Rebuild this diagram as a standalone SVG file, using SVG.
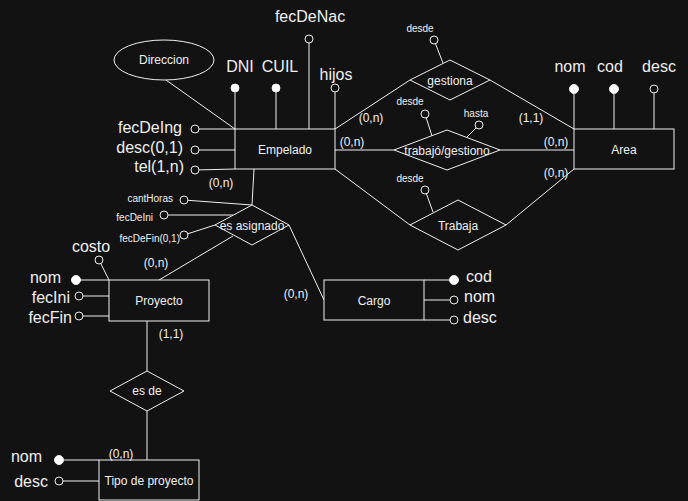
<svg xmlns="http://www.w3.org/2000/svg" width="688" height="501" viewBox="0 0 688 501">
<style>
text{font-family:"Liberation Sans",Arial,sans-serif;fill:#f0f0f0}
.s{font-size:10px}.m{font-size:12px}.l{font-size:16px}
.c{text-anchor:middle}.e{text-anchor:end}
.sh{fill:#121212;stroke:#f0f0f0;stroke-width:1}
.ln{stroke:#f0f0f0;stroke-width:1;fill:none}
.f{fill:#ffffff;stroke:#f0f0f0}
.o{fill:#121212;stroke:#f0f0f0;stroke-width:1}
</style>
<rect width="688" height="501" fill="#121212"/>
<g id="connectors" class="ln">
<line x1="166" y1="80" x2="235" y2="129"/>
<line x1="235" y1="88" x2="235" y2="129"/>
<line x1="276" y1="88" x2="276" y2="129"/>
<line x1="309" y1="39" x2="309" y2="129"/>
<line x1="335" y1="88" x2="335" y2="129"/>
<line x1="195" y1="129" x2="235" y2="129"/>
<line x1="195" y1="150" x2="235" y2="150"/>
<line x1="195" y1="170" x2="235" y2="169"/>
<line x1="254" y1="169" x2="252" y2="205"/>
<line x1="184" y1="200" x2="252" y2="205"/>
<line x1="164" y1="215" x2="233" y2="215"/>
<line x1="184" y1="235" x2="215" y2="225"/>
<line x1="159" y1="280" x2="233" y2="236"/>
<line x1="289" y1="225" x2="324" y2="300"/>
<line x1="99" y1="260" x2="109" y2="280"/>
<line x1="76" y1="280" x2="109" y2="280"/>
<line x1="79" y1="296" x2="109" y2="296"/>
<line x1="79" y1="316" x2="109" y2="316"/>
<line x1="424" y1="280" x2="454" y2="280"/>
<line x1="424" y1="300" x2="454" y2="300"/>
<line x1="424" y1="320" x2="454" y2="320"/>
<line x1="147" y1="321" x2="147" y2="371"/>
<line x1="147" y1="411" x2="147" y2="460"/>
<line x1="59" y1="460" x2="99" y2="460"/>
<line x1="59" y1="481" x2="99" y2="481"/>
<line x1="335" y1="129" x2="410" y2="80"/>
<line x1="490" y1="80" x2="574" y2="129"/>
<line x1="434" y1="40" x2="443" y2="63"/>
<line x1="335" y1="150" x2="394" y2="150"/>
<line x1="500" y1="150" x2="574" y2="150"/>
<line x1="425" y1="114" x2="432" y2="136"/>
<line x1="479" y1="125" x2="467" y2="137"/>
<line x1="335" y1="169" x2="410" y2="225"/>
<line x1="506" y1="225" x2="574" y2="169"/>
<line x1="425" y1="190" x2="433" y2="212"/>
<line x1="574" y1="89" x2="574" y2="129"/>
<line x1="614" y1="89" x2="614" y2="129"/>
<line x1="654" y1="89" x2="654" y2="129"/>
</g>
<g id="Empelado"><rect class="sh" x="235" y="129" width="100" height="40"/><text class="m c" x="285" y="154">Empelado</text></g>
<g id="Direccion"><ellipse class="sh" cx="164" cy="60" rx="50" ry="20"/><text class="m c" x="164" y="64">Direccion</text></g>
<g id="attr-DNI"><circle class="f" cx="235" cy="88" r="4"/><text class="l c" x="240" y="72">DNI</text></g>
<g id="attr-CUIL"><circle class="f" cx="276" cy="88" r="4"/><text class="l c" x="280" y="72">CUIL</text></g>
<g id="attr-fecDeNac"><circle class="o" cx="309" cy="39" r="4"/><text class="l c" x="310" y="22">fecDeNac</text></g>
<g id="attr-hijos"><circle class="o" cx="335" cy="88" r="4"/><text class="l c" x="336" y="80">hijos</text></g>
<g id="attr-fecDeIng"><circle class="o" cx="195" cy="129" r="4"/><text class="l e" x="182" y="133">fecDeIng</text></g>
<g id="attr-desc01"><circle class="o" cx="195" cy="150" r="4"/><text class="l e" x="183" y="153">desc(0,1)</text></g>
<g id="attr-tel"><circle class="o" cx="195" cy="170" r="4"/><text class="l e" x="184" y="172">tel(1,n)</text></g>
<g id="es-asignado"><polygon class="sh" points="252,205 289,225 252,245 215,225"/><text class="m c" x="252" y="230">es asignado</text></g>
<g id="attr-cantHoras"><circle class="o" cx="184" cy="200" r="4"/><text class="s e" x="173" y="202">cantHoras</text></g>
<g id="attr-fecDeIni"><circle class="o" cx="164" cy="215" r="4"/><text class="s e" x="153" y="221">fecDeIni</text></g>
<g id="attr-fecDeFin"><circle class="o" cx="184" cy="235" r="4"/><text class="s e" x="180" y="242">fecDeFin(0,1)</text></g>
<g id="Proyecto"><rect class="sh" x="109" y="280" width="100" height="41"/><text class="m c" x="159" y="305">Proyecto</text></g>
<g id="attr-costo"><circle class="o" cx="99" cy="260" r="4"/><text class="l c" x="91" y="252">costo</text></g>
<g id="attr-p-nom"><circle class="f" cx="76" cy="280" r="4.5"/><text class="l e" x="61" y="283">nom</text></g>
<g id="attr-fecIni"><circle class="o" cx="79" cy="296" r="4"/><text class="l e" x="70" y="303">fecIni</text></g>
<g id="attr-fecFin"><circle class="o" cx="79" cy="316" r="4"/><text class="l e" x="72" y="323">fecFin</text></g>
<g id="Cargo"><rect class="sh" x="324" y="280" width="100" height="40"/><text class="m c" x="374" y="305">Cargo</text></g>
<g id="attr-c-cod"><circle class="f" cx="454" cy="280" r="4.5"/><text class="l" x="466" y="282">cod</text></g>
<g id="attr-c-nom"><circle class="o" cx="454" cy="300" r="4"/><text class="l" x="464" y="302">nom</text></g>
<g id="attr-c-desc"><circle class="o" cx="454" cy="320" r="4"/><text class="l" x="463" y="323">desc</text></g>
<g id="es-de"><polygon class="sh" points="147,371 184,391 147,411 110,391"/><text class="m c" x="147" y="395">es de</text></g>
<g id="Tipo-de-proyecto"><rect class="sh" x="99" y="460" width="100" height="40"/><text class="m c" x="149" y="485">Tipo de proyecto</text></g>
<g id="attr-t-nom"><circle class="f" cx="59" cy="460" r="4.5"/><text class="l e" x="42" y="462">nom</text></g>
<g id="attr-t-desc"><circle class="o" cx="59" cy="481" r="4"/><text class="l e" x="48" y="487">desc</text></g>
<g id="gestiona"><polygon class="sh" points="450,60 490,80 450,100 410,80"/><text class="m c" x="450" y="85">gestiona</text></g>
<g id="attr-g-desde"><circle class="o" cx="434" cy="40" r="4"/><text class="s c" x="420" y="32">desde</text></g>
<g id="trabajo-gestiono"><polygon class="sh" points="447,130 500,150 447,170 394,150"/><text class="m c" x="447" y="155">trabajó/gestiono</text></g>
<g id="attr-tg-desde"><circle class="o" cx="425" cy="114" r="4"/><text class="s c" x="410" y="105">desde</text></g>
<g id="attr-tg-hasta"><circle class="o" cx="479" cy="125" r="4"/><text class="s c" x="476" y="117">hasta</text></g>
<g id="Trabaja"><polygon class="sh" points="458,200 506,225 458,250 410,225"/><text class="m c" x="458" y="230">Trabaja</text></g>
<g id="attr-tr-desde"><circle class="o" cx="425" cy="190" r="4"/><text class="s c" x="410" y="182">desde</text></g>
<g id="Area"><rect class="sh" x="574" y="129" width="100" height="40"/><text class="m c" x="624" y="154">Area</text></g>
<g id="attr-a-nom"><circle class="f" cx="574" cy="89" r="4.5"/><text class="l c" x="570" y="72">nom</text></g>
<g id="attr-a-cod"><circle class="f" cx="614" cy="89" r="4.5"/><text class="l c" x="610" y="72">cod</text></g>
<g id="attr-a-desc"><circle class="o" cx="654" cy="89" r="4"/><text class="l c" x="659" y="72">desc</text></g>
<g id="labels" class="m">
<text class="m c" x="371" y="122">(0,n)</text>
<text class="m c" x="531" y="122">(1,1)</text>
<text class="m c" x="352" y="146">(0,n)</text>
<text class="m c" x="556" y="146">(0,n)</text>
<text class="m c" x="556" y="177">(0,n)</text>
<text class="m c" x="221" y="187">(0,n)</text>
<text class="m c" x="156" y="267">(0,n)</text>
<text class="m c" x="296" y="298">(0,n)</text>
<text class="m c" x="171" y="338">(1,1)</text>
<text class="m c" x="121" y="458">(0,n)</text>
</g>
</svg>
